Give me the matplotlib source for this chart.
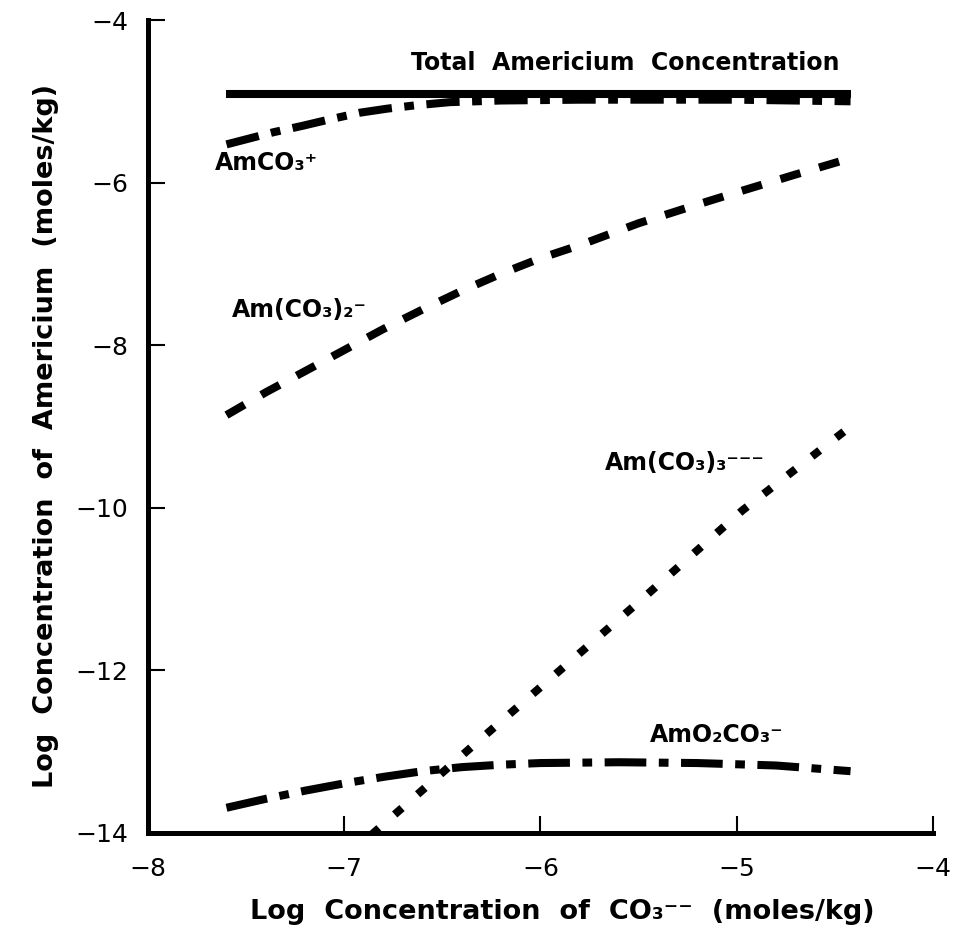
import matplotlib
matplotlib.use('Agg')
import matplotlib.pyplot as plt

plt.rcParams['font.family'] = ['DejaVu Sans']
plt.rcParams['lines.scale_dashes'] = False

# Log [CO3--] (moles/kg) vs log species concentration (moles/kg)
x_total = [-7.6, -4.42]
y_total = [-4.91, -4.91]

x_amco3 = [-7.6, -7.36, -7.21, -7.07, -6.92, -6.78, -6.64, -6.46, -6.2, -5.8, -5.4, -5.0, -4.42]
y_amco3 = [-5.53, -5.38, -5.30, -5.22, -5.14, -5.09, -5.05, -5.01, -4.99, -4.98, -4.98, -4.98, -5.0]

x_am2 = [-7.6, -7.4, -7.2, -7.0, -6.8, -6.6, -6.4, -6.2, -6.0, -5.8,
         -5.5, -5.2, -5.0, -4.7, -4.42]
y_am2 = [-8.86, -8.58, -8.32, -8.06, -7.80, -7.56, -7.33, -7.12, -6.93, -6.77,
         -6.50, -6.27, -6.12, -5.90, -5.70]

x_am3 = [-6.86, -6.35, -5.5, -4.97, -4.42]
y_am3 = [-14.02, -12.94, -11.16, -10.03, -9.0]

x_amo2 = [-7.6, -7.4, -7.2, -7.0, -6.8, -6.6, -6.4, -6.2, -6.0, -5.6, -5.2, -4.8, -4.42]
y_amo2 = [-13.69, -13.58, -13.48, -13.39, -13.31, -13.24, -13.19, -13.16, -13.14,
          -13.13, -13.14, -13.17, -13.24]

xticks = [-8, -7, -6, -5, -4]
yticks = [-4, -6, -8, -10, -12, -14]

fig = plt.figure(figsize=(9.66, 9.31), dpi=100)
ax = fig.add_axes([0.1532, 0.1053, 0.8126, 0.8732])

lw = 5.8
ax.plot(x_total, y_total, color='black', lw=lw, solid_capstyle='butt')
ax.plot(x_amco3, y_amco3, color='black', lw=lw, dashes=(24, 9, 7, 9), dash_capstyle='butt')
ax.plot(x_am2, y_am2, color='black', lw=lw, dashes=(15, 14), dash_capstyle='butt')
ax.plot(x_am3, y_am3, color='black', lw=lw, dashes=(7, 15), dash_capstyle='butt')
ax.plot(x_amo2, y_amo2, color='black', lw=lw, dashes=(30, 9, 7, 9), dash_capstyle='butt')

# curve labels
lab = dict(fontsize=17, fontweight='bold', va='center', ha='left')
ax.text(-6.66, -4.53, 'Total  Americium  Concentration', **lab)
ax.text(-7.66, -5.76, 'AmCO₃⁺', **lab)
ax.text(-7.57, -7.57, 'Am(CO₃)₂⁻', **lab)
ax.text(-5.67, -9.45, 'Am(CO₃)₃⁻⁻⁻', **lab)
ax.text(-5.44, -12.8, 'AmO₂CO₃⁻', **lab)

ax.set_xlim(-8, -4)
ax.set_ylim(-14, -4)
ax.set_xticks(xticks)
ax.set_yticks(yticks)
ax.set_xticklabels(['−8', '−7', '−6', '−5', '−4'])
ax.set_yticklabels(['−4', '−6', '−8', '−10', '−12', '−14'])
ax.tick_params(direction='in', length=12, width=1.5, labelsize=18)
ax.tick_params(axis='x', pad=17)
ax.tick_params(axis='y', pad=14)

for s in ['top', 'right']:
    ax.spines[s].set_visible(False)
for s in ['left', 'bottom']:
    ax.spines[s].set_linewidth(3.6)

ax.set_xlabel('Log  Concentration  of  CO₃⁻⁻  (moles/kg)', fontsize=19.5,
              fontweight='bold', labelpad=13)
ax.set_ylabel('Log  Concentration  of  Americium  (moles/kg)', fontsize=19.5,
              fontweight='bold', labelpad=12)
ax.xaxis.label.set_x(0.528)
ax.yaxis.label.set_y(0.488)

fig.savefig('out.png', dpi=100)
